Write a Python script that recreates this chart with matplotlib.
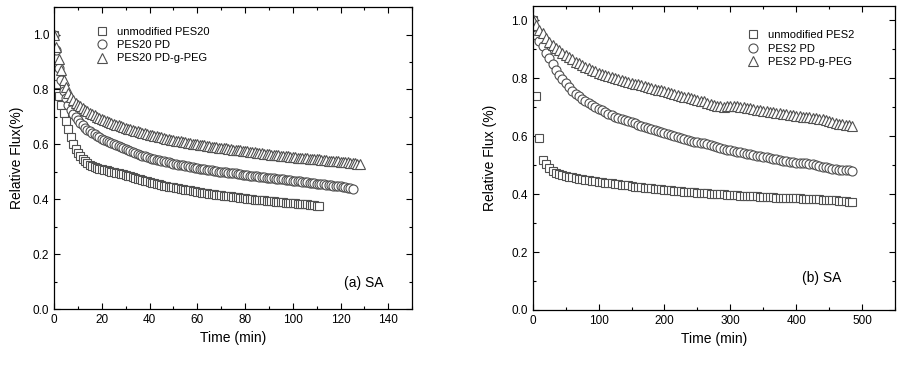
import numpy as np
import matplotlib
matplotlib.use("Agg")
import matplotlib.pyplot as plt
from matplotlib.ticker import MultipleLocator

plt.rcParams['font.family'] = ['Liberation Sans', 'DejaVu Sans']

# ---- (a) SA : sampled every minute ----
pes20_unmod = [
    1.00, 0.82, 0.775, 0.745, 0.715, 0.685, 0.655, 0.628, 0.603, 0.583,
    0.568, 0.556, 0.546, 0.538, 0.531, 0.526, 0.522, 0.518, 0.515, 0.512,
    0.509, 0.507, 0.505, 0.503, 0.501, 0.499, 0.497, 0.495, 0.493, 0.491,
    0.489, 0.486, 0.483, 0.480, 0.478, 0.475, 0.472, 0.470, 0.467, 0.465,
    0.462, 0.460, 0.458, 0.456, 0.454, 0.452, 0.450, 0.448, 0.446, 0.445,
    0.443, 0.441, 0.440, 0.438, 0.436, 0.435, 0.433, 0.432, 0.430, 0.429,
    0.427, 0.426, 0.424, 0.423, 0.422, 0.420, 0.419, 0.418, 0.417, 0.415,
    0.414, 0.413, 0.412, 0.411, 0.410, 0.409, 0.408, 0.407, 0.405, 0.404,
    0.403, 0.402, 0.401, 0.400, 0.399, 0.398, 0.398, 0.397, 0.396, 0.395,
    0.394, 0.393, 0.392, 0.391, 0.391, 0.390, 0.389, 0.388, 0.388, 0.387,
    0.386, 0.385, 0.384, 0.383, 0.382, 0.382, 0.381, 0.380, 0.379, 0.378,
    0.377, 0.376,
]
pes20_pd = [
    1.00, 0.945, 0.88, 0.835, 0.795, 0.768, 0.745, 0.727, 0.712, 0.699,
    0.688, 0.678, 0.669, 0.661, 0.654, 0.647, 0.641, 0.636, 0.631, 0.626,
    0.621, 0.617, 0.613, 0.609, 0.605, 0.601, 0.598, 0.594, 0.590, 0.586,
    0.583, 0.579, 0.575, 0.571, 0.568, 0.565, 0.562, 0.559, 0.556, 0.553,
    0.550, 0.548, 0.546, 0.544, 0.542, 0.540, 0.538, 0.536, 0.534, 0.532,
    0.530, 0.528, 0.526, 0.525, 0.523, 0.521, 0.520, 0.518, 0.516, 0.515,
    0.513, 0.512, 0.510, 0.509, 0.508, 0.506, 0.505, 0.504, 0.502, 0.501,
    0.500, 0.499, 0.498, 0.497, 0.496, 0.495, 0.494, 0.492, 0.491, 0.490,
    0.488, 0.487, 0.486, 0.485, 0.484, 0.483, 0.482, 0.481, 0.480, 0.479,
    0.478, 0.477, 0.476, 0.475, 0.474, 0.473, 0.472, 0.471, 0.470, 0.469,
    0.468, 0.467, 0.466, 0.465, 0.464, 0.463, 0.462, 0.461, 0.460, 0.458,
    0.457, 0.456, 0.455, 0.454, 0.453, 0.452, 0.451, 0.450, 0.449, 0.448,
    0.447, 0.445, 0.443, 0.441, 0.440, 0.439,
]
pes20_peg = [
    1.00, 0.955, 0.91, 0.87, 0.835, 0.808, 0.788, 0.772, 0.762, 0.752,
    0.745, 0.739, 0.733, 0.727, 0.721, 0.716, 0.711, 0.706, 0.701, 0.697,
    0.693, 0.689, 0.685, 0.681, 0.678, 0.675, 0.672, 0.669, 0.666, 0.663,
    0.660, 0.657, 0.655, 0.652, 0.650, 0.647, 0.645, 0.642, 0.640, 0.637,
    0.635, 0.633, 0.631, 0.629, 0.627, 0.625, 0.623, 0.621, 0.619, 0.617,
    0.615, 0.614, 0.612, 0.611, 0.609, 0.608, 0.606, 0.605, 0.603, 0.602,
    0.600, 0.599, 0.597, 0.596, 0.595, 0.593, 0.592, 0.591, 0.589, 0.588,
    0.587, 0.586, 0.585, 0.584, 0.582, 0.581, 0.580, 0.579, 0.578, 0.576,
    0.575, 0.574, 0.573, 0.572, 0.571, 0.570, 0.568, 0.567, 0.566, 0.565,
    0.564, 0.563, 0.562, 0.561, 0.560, 0.559, 0.558, 0.557, 0.556, 0.555,
    0.554, 0.553, 0.552, 0.551, 0.551, 0.550, 0.549, 0.548, 0.547, 0.546,
    0.545, 0.545, 0.544, 0.543, 0.542, 0.541, 0.541, 0.540, 0.539, 0.538,
    0.537, 0.536, 0.535, 0.534, 0.533, 0.532, 0.531, 0.530, 0.528,
]

# ---- (b) SA : sampled every 5 minutes ----
pes2_unmod = [
    1.00, 0.74, 0.595, 0.518, 0.503, 0.490, 0.479, 0.473,
    0.468, 0.465, 0.463, 0.460, 0.458, 0.456, 0.453, 0.451, 0.450, 0.448, 0.446, 0.445,
    0.443, 0.442, 0.440, 0.439, 0.437, 0.436, 0.434, 0.433, 0.431, 0.430,
    0.427, 0.426, 0.425, 0.423, 0.422, 0.421, 0.420, 0.418, 0.417, 0.416,
    0.415, 0.414, 0.413, 0.412, 0.411, 0.410, 0.409, 0.408, 0.407, 0.406,
    0.405, 0.404, 0.403, 0.403, 0.402, 0.401, 0.400, 0.400, 0.399, 0.398,
    0.397, 0.396, 0.396, 0.395, 0.394, 0.394, 0.393, 0.392, 0.392, 0.391,
    0.390, 0.390, 0.389, 0.389, 0.388, 0.388, 0.387, 0.387, 0.386, 0.386,
    0.385, 0.385, 0.384, 0.384, 0.383, 0.383, 0.382, 0.382, 0.381, 0.381,
    0.380, 0.379, 0.378, 0.377, 0.376, 0.375, 0.374, 0.373,
]
pes2_pd = [
    1.00, 0.95, 0.93, 0.91, 0.888, 0.87, 0.85, 0.83, 0.81, 0.797,
    0.783, 0.77, 0.757, 0.747, 0.738, 0.729, 0.721, 0.713, 0.707, 0.701,
    0.695, 0.689, 0.683, 0.678, 0.673, 0.668, 0.664, 0.660, 0.656, 0.652,
    0.648, 0.644, 0.640, 0.636, 0.632, 0.628, 0.624, 0.620, 0.617, 0.614,
    0.611, 0.608, 0.604, 0.600, 0.597, 0.593, 0.590, 0.587, 0.584, 0.581,
    0.579, 0.577, 0.575, 0.572, 0.569, 0.566, 0.562, 0.559, 0.556, 0.553,
    0.551, 0.549, 0.546, 0.544, 0.541, 0.539, 0.537, 0.535, 0.533, 0.531,
    0.529, 0.527, 0.524, 0.522, 0.520, 0.518, 0.516, 0.514, 0.512, 0.511,
    0.509, 0.508, 0.507, 0.506, 0.505, 0.503, 0.500, 0.497, 0.494, 0.492,
    0.490, 0.488, 0.486, 0.485, 0.484, 0.483, 0.482, 0.481,
]
pes2_peg = [
    1.00, 0.985, 0.968, 0.955, 0.94, 0.927, 0.915, 0.905, 0.896, 0.888,
    0.88, 0.872, 0.865, 0.858, 0.852, 0.846, 0.84, 0.834, 0.829, 0.824,
    0.819, 0.815, 0.811, 0.807, 0.803, 0.800, 0.797, 0.794, 0.791, 0.788,
    0.785, 0.782, 0.779, 0.776, 0.773, 0.770, 0.767, 0.764, 0.761, 0.758,
    0.755, 0.752, 0.749, 0.746, 0.743, 0.740, 0.737, 0.734, 0.731, 0.728,
    0.726, 0.723, 0.720, 0.715, 0.710, 0.707, 0.705, 0.703, 0.702, 0.703,
    0.705, 0.706, 0.704, 0.702, 0.700, 0.698, 0.696, 0.694, 0.692, 0.690,
    0.688, 0.686, 0.684, 0.682, 0.680, 0.679, 0.677, 0.676, 0.674, 0.673,
    0.671, 0.670, 0.668, 0.667, 0.665, 0.664, 0.662, 0.660, 0.658, 0.656,
    0.652, 0.648, 0.645, 0.643, 0.641, 0.639, 0.637, 0.635,
]

t_a = [np.arange(len(s)) * 1.0 for s in (pes20_unmod, pes20_pd, pes20_peg)]
t_b = [np.arange(len(s)) * 5.0 for s in (pes2_unmod, pes2_pd, pes2_peg)]

labels_a = ["unmodified PES20", "PES20 PD", "PES20 PD-g-PEG"]
labels_b = ["unmodified PES2", "PES2 PD", "PES2 PD-g-PEG"]
markers = ["s", "o", "^"]
sizes = [6.0, 6.5, 6.5]
edge = "#505050"

fig = plt.figure(figsize=(9.16, 3.69), dpi=100)
ax1 = fig.add_axes([0.059, 0.1626, 0.391, 0.818])
ax2 = fig.add_axes([0.5816, 0.160, 0.3955, 0.824])


def draw(ax, times, series, labels):
    for t, y, m, ms, lab in zip(times, series, markers, sizes, labels):
        ax.plot(t, y, linestyle="none", marker=m, markersize=ms,
                markerfacecolor="white", markeredgecolor=edge,
                markeredgewidth=0.8, label=lab)


draw(ax1, t_a, [pes20_unmod, pes20_pd, pes20_peg], labels_a)
draw(ax2, t_b, [pes2_unmod, pes2_pd, pes2_peg], labels_b)

ax1.set_xlim(0, 150)
ax1.set_ylim(0, 1.1)
ax1.xaxis.set_major_locator(MultipleLocator(20))
ax1.xaxis.set_minor_locator(MultipleLocator(10))
ax2.set_xlim(0, 550)
ax2.set_ylim(0, 1.05)
ax2.xaxis.set_major_locator(MultipleLocator(100))
ax2.xaxis.set_minor_locator(MultipleLocator(50))

for ax in (ax1, ax2):
    ax.yaxis.set_major_locator(MultipleLocator(0.2))
    ax.yaxis.set_minor_locator(MultipleLocator(0.1))
    ax.yaxis.set_major_formatter(plt.FormatStrFormatter("%.1f"))
    ax.tick_params(which="both", direction="in", top=True, right=True,
                   labelsize=8.5, width=0.8)
    ax.tick_params(which="major", length=4.5)
    ax.tick_params(which="minor", length=2.5)
    for s in ax.spines.values():
        s.set_linewidth(0.9)
    ax.set_xlabel("Time (min)", fontsize=10, labelpad=4)

ax1.set_ylabel("Relative Flux(%)", fontsize=10, labelpad=6)
ax2.set_ylabel("Relative Flux (%)", fontsize=10, labelpad=10)

ax1.text(129.5, 0.095, "(a) SA", fontsize=10, ha="center", va="center")
ax2.text(438, 0.109, "(b) SA", fontsize=10, ha="center", va="center")

leg_kw = dict(frameon=False, fontsize=8, loc="upper left", borderpad=0,
              borderaxespad=0, handlelength=1.0, handletextpad=0.85,
              labelspacing=0.3, numpoints=1)
ax1.legend(bbox_to_anchor=(0.119, 0.935), **leg_kw)
ax2.legend(bbox_to_anchor=(0.593, 0.92), **leg_kw)

fig.savefig("out.png", dpi=100)
